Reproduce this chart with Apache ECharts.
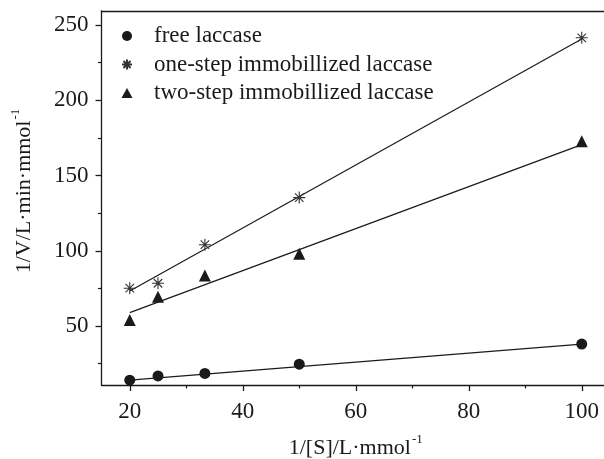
<!DOCTYPE html>
<html>
<head>
<meta charset="utf-8">
<script src="https://cdn.jsdelivr.net/npm/echarts@6/dist/echarts.min.js"></script>
<style>html,body{margin:0;padding:0;background:#fff;}#c{width:604px;height:459px;}</style>
</head>
<body>
<div id="c"></div>
<script>
// ---- data ----
var xValues = [20, 25, 33.3, 50, 100];
var freeLaccase = [14, 16.8, 18.5, 24.6, 38];
var oneStep = [75.1, 78.4, 104, 135.3, 241.5];
var twoStep = [54, 69.5, 83.5, 98, 172.7];
// fitted lines (endpoints)
var freeFit = [[20, 14], [100, 38]];
var oneFit = [[20, 73.3], [100, 240.7]];
var twoFit = [[20, 58.9], [100, 170.5]];
var seriesNames = ['free laccase', 'one-step immobillized laccase', 'two-step immobillized laccase'];
var xMajorTicks = [20, 40, 60, 80, 100];
var xMinorTicks = [30, 50, 70, 90];
var yMajorTicks = [50, 100, 150, 200, 250];
var yMinorTicks = [25, 75, 125, 175, 225];

function pairs(xs, ys) { return xs.map(function (x, i) { return [x, ys[i]]; }); }

var FONT = 'Liberation Serif';
var INK = '#1a1a1a';
var STAR = 'path://M5,0L5,10M0,5L10,5M1.46,1.46L8.54,8.54M1.46,8.54L8.54,1.46';

var chart = echarts.init(document.getElementById('c'), null, {renderer: 'canvas'});
var xMin = 15, xMax = 105, yMin = 10.8, yMax = 259.3;
var baseAxisLine = {show: true, lineStyle: {color: INK, width: 1.3}};
var supRich = {
  n: {fontFamily: FONT, fontSize: 22, color: INK, lineHeight: 26, verticalAlign: 'bottom'},
  sup: {fontFamily: FONT, fontSize: 13, color: INK, lineHeight: 26, verticalAlign: 'top', padding: [0, 0, 0, 1]}
};

var option = {
  backgroundColor: '#fff',
  animation: false,
  grid: {left: 101.5, right: -6, top: 11, bottom: 74, containLabel: false, outerBoundsMode: 'none'},
  legend: {
    orient: 'vertical', left: 121, top: 24.5, padding: 0,
    itemWidth: 11, itemHeight: 10, itemGap: 5.5, symbolKeepAspect: true,
    data: seriesNames,
    textStyle: {fontFamily: FONT, fontSize: 23, color: INK, lineHeight: 23, padding: [0, 0, 0, 16.5]}
  },
  xAxis: [
    {
      type: 'value', min: xMin, max: xMax, position: 'bottom',
      axisLine: baseAxisLine, splitLine: {show: false},
      axisTick: {show: true, inside: false, length: 6, customValues: xMajorTicks, lineStyle: {color: INK, width: 1.3}},
      axisLabel: {customValues: xMajorTicks, margin: 15, fontFamily: FONT, fontSize: 23, color: INK},
      name: '{n|1/[S]/L·mmol}{sup|-1}', nameLocation: 'middle', nameGap: 48,
      nameTextStyle: {rich: supRich}
    },
    {
      type: 'value', min: xMin, max: xMax, position: 'bottom',
      axisLine: {show: false}, splitLine: {show: false}, axisLabel: {show: false},
      axisTick: {show: true, length: 3.5, customValues: xMinorTicks, lineStyle: {color: INK, width: 1.2}}
    },
    {
      type: 'value', min: xMin, max: xMax, position: 'top',
      axisLine: baseAxisLine, splitLine: {show: false}, axisLabel: {show: false}, axisTick: {show: false}
    }
  ],
  yAxis: [
    {
      type: 'value', min: yMin, max: yMax, position: 'left',
      axisLine: baseAxisLine, splitLine: {show: false},
      axisTick: {show: true, length: 6, customValues: yMajorTicks, lineStyle: {color: INK, width: 1.3}},
      axisLabel: {customValues: yMajorTicks, margin: 13, fontFamily: FONT, fontSize: 23, color: INK},
      name: '{n|1/V/L·min·mmol}{sup|-1}', nameLocation: 'middle', nameGap: 66,
      nameTextStyle: {rich: supRich, padding: [0, 0, 0, 14]}
    },
    {
      type: 'value', min: yMin, max: yMax, position: 'left',
      axisLine: {show: false}, splitLine: {show: false}, axisLabel: {show: false},
      axisTick: {show: true, length: 3.5, customValues: yMinorTicks, lineStyle: {color: INK, width: 1.2}}
    }
  ],
  series: [
    {type: 'line', data: freeFit, showSymbol: false, symbol: 'none', lineStyle: {color: INK, width: 1.2}, z: 1, silent: true},
    {type: 'line', data: oneFit, showSymbol: false, symbol: 'none', lineStyle: {color: INK, width: 1.2}, z: 1, silent: true},
    {type: 'line', data: twoFit, showSymbol: false, symbol: 'none', lineStyle: {color: INK, width: 1.2}, z: 1, silent: true},
    {name: seriesNames[0], type: 'scatter', data: pairs(xValues, freeLaccase), symbol: 'circle', symbolSize: 11,
     itemStyle: {color: INK, opacity: 1}, z: 3},
    {name: seriesNames[1], type: 'scatter', data: pairs(xValues, oneStep), symbol: STAR, symbolSize: 12,
     itemStyle: {color: 'rgba(0,0,0,0)', borderColor: '#333', borderWidth: 1.1, opacity: 1}, z: 3},
    {name: seriesNames[2], type: 'scatter', data: pairs(xValues, twoStep), symbol: 'triangle', symbolSize: 12,
     itemStyle: {color: INK, opacity: 1}, z: 3}
  ]
};
chart.setOption(option);
</script>
</body>
</html>
